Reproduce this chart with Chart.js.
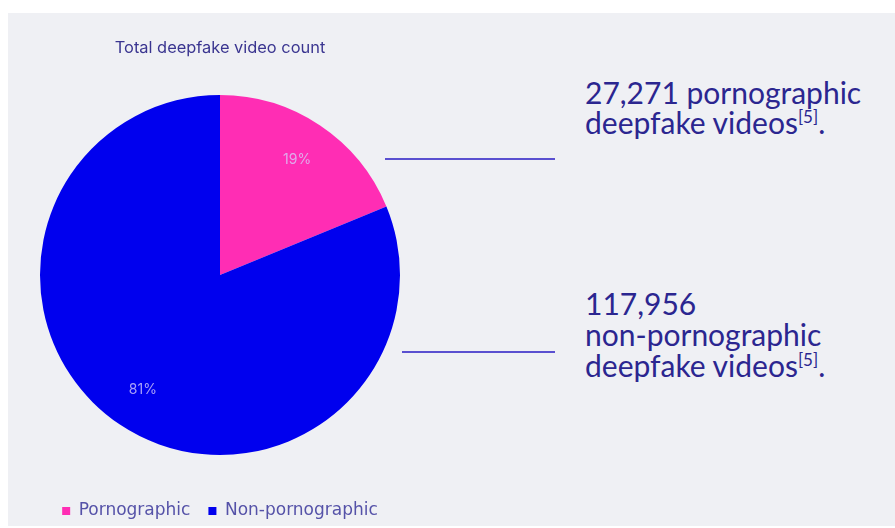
<!DOCTYPE html>
<html>
<head>
<meta charset="utf-8">
<script src="https://cdn.jsdelivr.net/npm/chart.js@4.4.1/dist/chart.umd.min.js"></script>
<style>
  html, body { margin:0; padding:0; background:#ffffff; }
  body { width:895px; height:528px; overflow:hidden; position:relative; }
  #panel { position:absolute; left:8px; top:13px; width:887px; height:513px; background:#eff0f4; }
  #wrap { position:absolute; left:8px; top:13px; width:432px; height:520px; }
  .note { position:absolute; left:585px; font-family:Lato, sans-serif; font-size:30px; line-height:30px; color:#2b2690; white-space:nowrap; }
  .note sup { font-size:17px; line-height:0; vertical-align:11px; }
  .rule { position:absolute; height:1.5px; background:#5a50d0; }
</style>
</head>
<body>
<div id="panel"></div>
<div id="wrap"><canvas id="c" width="432" height="520"></canvas></div>
<div class="note" id="note1" style="top:77px;"></div>
<div class="note" id="note2" style="top:288px; line-height:31px;"></div>
<div class="rule" style="left:385px; top:158px; width:170px;"></div>
<div class="rule" style="left:402px; top:351px; width:153px;"></div>
<script>
const categories = ['Pornographic', 'Non-pornographic'];
const values = [27271, 117956];
const colors = ['#ff2db4', '#0000ee'];
const chartTitle = 'Total deepfake video count';
const noteSuffix = ['pornographic<br>deepfake videos<sup>[5]</sup>.', '<br>non-pornographic<br>deepfake videos<sup>[5]</sup>.'];

const fmt = n => n.toLocaleString('en-US');
document.getElementById('note1').innerHTML = fmt(values[0]) + ' ' + noteSuffix[0];
document.getElementById('note2').innerHTML = fmt(values[1]) + noteSuffix[1];

const total = values.reduce((a, b) => a + b, 0);

const sliceLabels = {
  id: 'sliceLabels',
  afterDatasetsDraw(chart) {
    const ctx = chart.ctx;
    const meta = chart.getDatasetMeta(0);
    meta.data.forEach((arc, i) => {
      const p = arc.getProps(['x', 'y', 'startAngle', 'endAngle', 'outerRadius'], true);
      const mid = (p.startAngle + p.endAngle) / 2;
      const r = p.outerRadius * 0.77;
      ctx.save();
      ctx.font = '14px Inter, sans-serif';
      ctx.fillStyle = 'rgba(215,205,250,0.78)';
      ctx.textAlign = 'center';
      ctx.textBaseline = 'middle';
      ctx.fillText(Math.round(values[i] / total * 100) + '%', p.x + Math.cos(mid) * r, p.y + Math.sin(mid) * r);
      ctx.restore();
    });
  }
};

new Chart(document.getElementById('c'), {
  type: 'pie',
  data: {
    labels: categories,
    datasets: [{ data: values, backgroundColor: colors, borderWidth: 0, hoverOffset: 0 }]
  },
  options: {
    responsive: false,
    animation: false,
    layout: { padding: { left: 32, right: 40, top: 0, bottom: 3.5 } },
    plugins: {
      title: {
        display: true,
        text: chartTitle,
        color: '#3a3590',
        font: { family: 'Inter, sans-serif', size: 16.4, weight: 'normal' },
        padding: { top: 25.2, bottom: 7.6 }
      },
      legend: {
        display: true,
        position: 'bottom',
        labels: {
          boxWidth: 8,
          boxHeight: 8,
          padding: 18,
          color: '#5552a8',
          font: { family: '"DejaVu Sans", sans-serif', size: 17 }
        }
      },
      tooltip: { enabled: false }
    }
  },
  plugins: [sliceLabels]
});
</script>
</body>
</html>
